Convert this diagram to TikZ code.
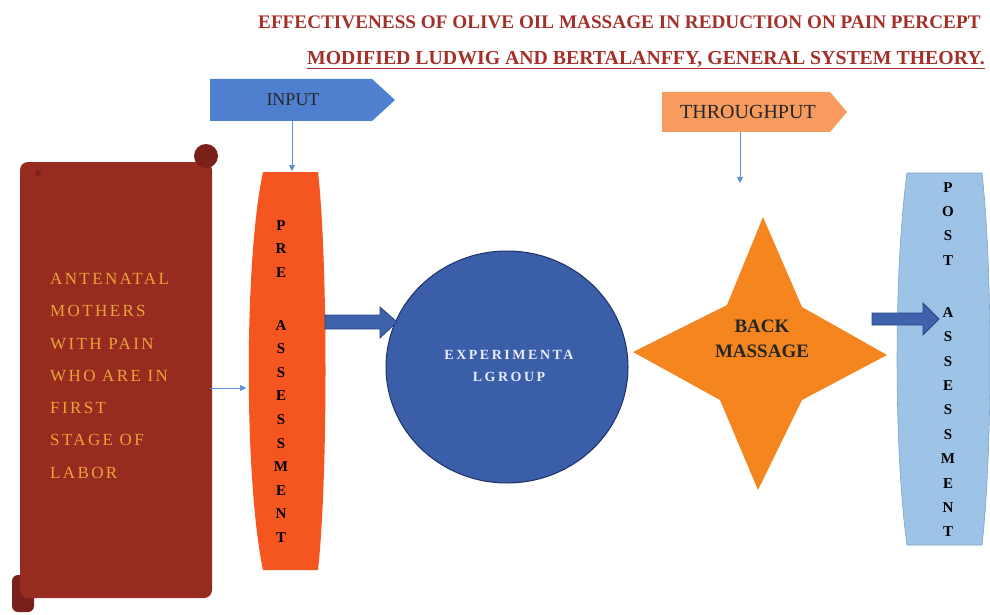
\documentclass[tikz,border=0pt]{standalone}
\usepackage{fontspec}
\setmainfont{Liberation Serif}
\usetikzlibrary{arrows.meta}
\definecolor{titlered}{HTML}{A5302A}
\definecolor{inblue}{HTML}{4F80CF}
\definecolor{scrollred}{HTML}{982B1F}
\definecolor{curlred}{HTML}{7A1F19}
\definecolor{gold}{HTML}{E9A33B}
\definecolor{preorange}{HTML}{F5551F}
\definecolor{arrowblue}{HTML}{3F62AD}
\definecolor{arrowedge}{HTML}{2B4784}
\definecolor{circblue}{HTML}{3B5EA8}
\definecolor{circedge}{HTML}{1F3163}
\definecolor{thruorange}{HTML}{F79B5E}
\definecolor{starorange}{HTML}{F5861F}
\definecolor{postblue}{HTML}{9DC3E6}
\definecolor{postedge}{HTML}{7FA3C8}
\definecolor{thinblue}{HTML}{5B8FD6}
\tikzset{
  thinarrow/.style={draw=thinblue, line width=0.8pt, -{Triangle[length=6pt,width=6pt]}},
  blockarrow/.style={fill=arrowblue, draw=arrowedge, line width=0.8pt, line join=miter},
  stack/.style={inner sep=0pt, align=center, anchor=north, text=black},
  labeltext/.style={inner sep=0pt, text=black!85},
}
\begin{document}
\begin{tikzpicture}[x=1pt,y=-1pt]
\useasboundingbox (0,0) rectangle (990,615);
\clip (0,0) rectangle (990,615);
\fill[white] (0,0) rectangle (990,615);

% titles
\node[anchor=west, inner sep=0pt, text=titlered, font={\fontsize{19.2}{22}\selectfont\bfseries}] (title1) at (258,22) {EFFECTIVENESS OF OLIVE OIL MASSAGE IN REDUCTION ON PAIN PERCEPT};
\node[inner sep=0pt, text=titlered, font={\fontsize{19.8}{22}\selectfont\bfseries}] (title2) at (646,60) {\underline{MODIFIED LUDWIG AND BERTALANFFY, GENERAL SYSTEM THEORY.}};

% INPUT
\fill[inblue] (210,79) -- (372,79) -- (395,100) -- (372,121) -- (210,121) -- cycle;
\node[labeltext, font={\fontsize{18}{20}\selectfont}] (input) at (293,100) {INPUT};
\coordinate (inputB) at (292,121);

% THROUGHPUT
\fill[thruorange] (662,92) -- (830,92) -- (847,112) -- (830,132) -- (662,132) -- cycle;
\node[labeltext, font={\fontsize{20}{22}\selectfont}] (thru) at (748,112) {THROUGHPUT};
\coordinate (thruB) at (740,132);
\coordinate (thruE) at (740,183);

% scroll
\fill[curlred, rounded corners=6pt] (12,575) rectangle (34,612);
\fill[scrollred, rounded corners=8pt] (20,162) -- (212,162) -- (212,598) -- (20,598) -- cycle;
\fill[curlred] (206,156) circle[radius=12];
\fill[scrollred!80!black] (209,165) circle[radius=3];
\fill[scrollred!80!black] (38,173) circle[radius=3];
\node[anchor=north west, inner sep=0pt, align=left, text=gold,
  font={\fontsize{17}{32.3}\selectfont\addfontfeature{LetterSpace=14}}] (mothers) at (50,273)
  {ANTENATAL\\MOTHERS\\WITH PAIN\\WHO ARE IN\\FIRST\\STAGE OF\\LABOR};
\coordinate (scrollR) at (210,388);

% pre assessment
\path[fill=preorange] (263,172) -- (318,172) .. controls (328,260) and (328,480) .. (318,570) -- (263,570) .. controls (244,480) and (244,260) .. (263,172) -- cycle;
\node[stack, font={\fontsize{15}{23.6}\selectfont\bfseries}] (pre) at (281,220)
  {P\\R\\E\\[29.3pt]A\\S\\S\\E\\S\\S\\M\\E\\N\\T};
\coordinate (preT) at (292,171);
\coordinate (preL) at (246,388);

% circle
\path[fill=circblue, draw=circedge, line width=1pt] (507,367) ellipse[x radius=121, y radius=116];
\node[inner sep=0pt, align=center, text=white!92!blue,
  font={\fontsize{14}{22}\selectfont\bfseries\addfontfeature{LetterSpace=18}}] (exp) at (509,366)
  {EXPERIMENTA\\LGROUP};

% star
\fill[starorange] (763,217) -- (802,307) -- (887,355) -- (802,400) -- (758,490) -- (720,400) -- (633,352) -- (727,305) -- cycle;
\node[inner sep=0pt, align=center, text=black!85,
  font={\fontsize{19}{25}\selectfont\bfseries}] (back) at (762,339) {BACK\\MASSAGE};

% post assessment
\path[fill=postblue, draw=postedge, line width=0.6pt] (907,173) -- (982,173) .. controls (992.7,270) and (992.7,450) .. (982,545) -- (907,545) .. controls (893.7,450) and (893.7,270) .. (907,173) -- cycle;
\node[stack, font={\fontsize{15}{24.4}\selectfont\bfseries}] (post) at (948,182)
  {P\\O\\S\\T\\[27.6pt]A\\S\\S\\E\\S\\S\\M\\E\\N\\T};

% connectors
\draw[thinarrow] (inputB) -- (preT);
\draw[thinarrow] (thruB) -- (thruE);
\draw[thinarrow] (scrollR) -- (preL);

\path[blockarrow] (325,315) -- (380,315) -- (380,307) -- (397,322) -- (380,338) -- (380,329) -- (325,329) -- cycle;
\path[blockarrow] (872,313) -- (923,313) -- (923,303) -- (939,319) -- (923,335) -- (923,325) -- (872,325) -- cycle;
\end{tikzpicture}
\end{document}
